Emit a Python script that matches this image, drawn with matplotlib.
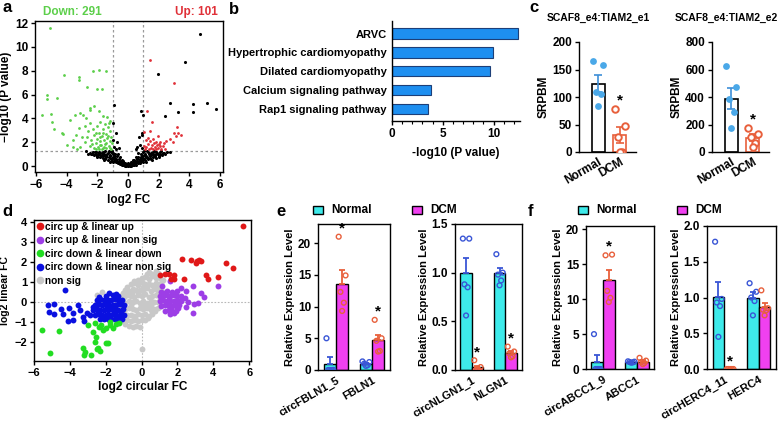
import numpy as np
import matplotlib.pyplot as plt
from matplotlib.patches import Rectangle
from matplotlib.lines import Line2D
from matplotlib.ticker import MultipleLocator

plt.rcParams['font.family'] = ['Liberation Sans', 'DejaVu Sans']
plt.rcParams['font.weight'] = 'bold'
plt.rcParams['axes.labelweight'] = 'bold'
plt.rcParams['axes.linewidth'] = 1.0
plt.rcParams['xtick.major.width'] = 1.0
plt.rcParams['ytick.major.width'] = 1.0
plt.rcParams['xtick.major.size'] = 3
plt.rcParams['ytick.major.size'] = 3
plt.rcParams['xtick.major.pad'] = 2
plt.rcParams['ytick.major.pad'] = 2
plt.rcParams['xtick.labelsize'] = 8.5
plt.rcParams['ytick.labelsize'] = 8.5

# ---------------- data ----------------
# a: volcano plot (log2 FC, -log10 P)
vol_black = np.array([
    (-0.30, 0.05), (-0.20, 0.03), (-0.10, 0.02), (0.00, 0.01), (0.10, 0.02), (0.20, 0.04), (0.30, 0.06),
    (-0.15, 0.10), (0.15, 0.09), (0.05, 0.12), (-0.05, 0.14), (-0.25, 0.15), (0.25, 0.14), (0.40, 0.08),
    (-0.40, 0.09), (-0.80, 0.30), (-0.65, 0.22), (-0.55, 0.35), (-0.45, 0.25), (-0.35, 0.32), (0.35, 0.30),
    (0.45, 0.22), (0.55, 0.34), (0.65, 0.26), (0.80, 0.28), (-0.70, 0.38), (0.70, 0.40), (-0.50, 0.15),
    (0.50, 0.12), (-0.20, 0.28), (0.20, 0.30), (0.00, 0.25), (-1.30, 0.50), (-1.10, 0.45), (-0.90, 0.55),
    (-0.75, 0.48), (-0.60, 0.58), (0.60, 0.55), (0.75, 0.46), (0.90, 0.52), (1.10, 0.47), (1.30, 0.55),
    (-1.50, 0.60), (1.50, 0.58), (-1.00, 0.32), (1.00, 0.30), (-0.40, 0.50), (0.40, 0.52), (-1.80, 0.75),
    (-1.60, 0.68), (-1.40, 0.72), (-1.20, 0.65), (-1.00, 0.78), (-0.85, 0.70), (0.85, 0.72), (1.00, 0.66),
    (1.20, 0.76), (1.40, 0.70), (1.60, 0.74), (1.80, 0.68), (-2.00, 0.78), (2.00, 0.80), (-0.70, 0.85),
    (0.65, 0.80), (-2.20, 0.92), (-2.00, 0.88), (-1.80, 0.95), (-1.60, 0.86), (-1.40, 0.93), (-1.20, 0.90),
    (-1.00, 0.97), (-0.90, 0.85), (0.90, 0.88), (1.05, 0.95), (1.20, 0.86), (1.40, 0.96), (1.60, 0.90),
    (1.80, 0.97), (2.00, 0.87), (2.20, 0.93), (-2.40, 0.98), (2.40, 1.00), (-2.50, 1.10), (-2.30, 1.18),
    (-2.10, 1.05), (-1.90, 1.22), (-1.70, 1.12), (-1.50, 1.25), (-1.30, 1.08), (-1.10, 1.20), (-0.95, 1.12),
    (0.95, 1.15), (1.10, 1.05), (1.30, 1.22), (1.50, 1.10), (1.70, 1.24), (1.90, 1.08), (2.10, 1.18),
    (2.30, 1.12), (2.55, 1.20), (-2.70, 1.25), (-2.60, 1.00), (2.70, 1.15), (-1.25, 1.28), (1.25, 1.28),
    (-0.85, 1.00), (0.85, 1.05), (-0.25, 0.20), (0.25, 0.22), (-0.60, 0.42), (0.60, 0.44), (-0.95, 0.65),
    (0.95, 0.62), (-1.15, 0.82), (1.15, 0.80), (-1.35, 0.98), (1.35, 0.99), (-1.55, 1.05), (1.55, 1.02),
    (-1.75, 0.82), (1.75, 0.83), (-1.95, 1.00), (1.95, 1.02), (-2.15, 1.22), (2.15, 1.24), (-2.35, 1.05),
    (2.35, 1.06), (-0.45, 0.40), (0.45, 0.42), (-0.75, 0.62), (0.75, 0.60), (-1.05, 0.58), (1.05, 0.56),
    (-1.25, 0.78), (1.25, 0.80), (-1.45, 0.82), (1.45, 0.84), (-1.65, 0.95), (1.65, 0.97), (-1.85, 1.12),
    (1.85, 1.14), (-2.05, 1.20), (2.05, 1.02), (-0.15, 0.18), (0.15, 0.20), (-0.85, 0.40), (0.85, 0.42),
    (-1.15, 0.38), (1.15, 0.36), (-1.55, 0.50), (1.55, 0.48), (-1.65, 1.20), (1.65, 1.18), (-1.05, 1.28),
    (1.05, 1.26), (-0.65, 1.05), (0.65, 1.10), (-0.50, 0.80), (0.50, 0.78), (-0.30, 0.45), (0.30, 0.48),
    (-0.90, 5.10), (-0.95, 3.60), (-0.80, 2.80), (-0.70, 2.00), (-0.90, 1.60), (-0.60, 1.50), (-0.95, 2.20),
    (0.50, 1.40), (0.80, 1.80), (0.70, 2.40), (0.90, 2.60), (0.83, 4.60), (0.97, 4.30), (0.88, 2.80),
    (0.60, 1.60), (0.90, 1.50), (-0.80, 1.40), (4.70, 11.10), (3.70, 8.70), (1.96, 7.70), (2.75, 5.28),
    (4.26, 5.20), (5.14, 5.25), (5.70, 4.78), (3.28, 4.56), (4.26, 4.56), (2.38, 4.17),
])
vol_green = np.array([
    (-5.10, 11.6), (-4.18, 7.66), (-3.20, 7.46), (-3.20, 7.24), (-2.26, 7.94), (-1.89, 8.07), (-1.40, 7.94),
    (-2.64, 6.60), (-2.04, 6.47), (-1.70, 6.47), (-5.30, 5.95), (-5.30, 5.65), (-4.60, 5.67), (-5.57, 4.29),
    (-4.99, 4.34), (-4.93, 3.70), (-4.80, 3.10), (-4.27, 2.77), (-4.20, 2.72), (-3.75, 3.87), (-3.43, 4.31),
    (-3.11, 4.48), (-2.90, 4.30), (-2.70, 4.05), (-2.50, 4.70), (-2.45, 4.90), (-2.20, 5.00), (-1.90, 4.60),
    (-1.60, 4.20), (-1.35, 4.10), (-1.20, 3.80), (-3.97, 1.77), (-3.60, 2.20), (-3.40, 2.60), (-3.20, 3.20),
    (-3.00, 2.40), (-2.80, 3.40), (-2.60, 2.90), (-2.50, 3.60), (-2.40, 2.20), (-2.30, 3.10), (-2.20, 2.60),
    (-2.10, 1.90), (-2.00, 3.40), (-2.00, 2.30), (-1.95, 1.60), (-1.90, 2.80), (-1.85, 2.10), (-1.80, 3.70),
    (-1.75, 1.75), (-1.70, 2.50), (-1.65, 1.50), (-1.60, 3.10), (-1.55, 2.20), (-1.50, 1.85), (-1.45, 2.70),
    (-1.40, 1.55), (-1.35, 2.35), (-1.30, 3.30), (-1.25, 1.70), (-1.20, 2.10), (-1.15, 2.90), (-1.10, 1.45),
    (-1.05, 1.95), (-1.70, 1.40), (-1.90, 1.45), (-2.20, 1.50), (-2.50, 1.70), (-2.80, 2.00), (-3.10, 1.60),
    (-1.50, 3.50), (-1.30, 2.55), (-1.60, 2.75), (-1.80, 2.45), (-2.10, 2.75), (-2.35, 1.85), (-1.40, 1.95),
    (-1.20, 1.50), (-1.55, 1.60), (-1.85, 1.75), (-2.05, 1.40), (-1.10, 2.40), (-1.25, 3.60), (-2.65, 2.40),
    (-3.30, 1.40), (-3.60, 1.60),
])
vol_red = np.array([
    (1.44, 8.93), (3.00, 7.00), (1.25, 4.64), (1.57, 3.73), (3.17, 3.26), (3.28, 2.79), (3.00, 2.80),
    (3.46, 2.60), (1.04, 2.85), (1.40, 2.90), (1.10, 1.40), (1.20, 1.60), (1.30, 1.85), (1.35, 1.45),
    (1.45, 2.10), (1.50, 1.55), (1.55, 1.75), (1.60, 2.30), (1.65, 1.40), (1.70, 1.90), (1.75, 1.60),
    (1.80, 2.05), (1.85, 1.45), (1.90, 1.75), (1.95, 1.55), (2.00, 1.85), (2.05, 1.65), (2.10, 2.00),
    (2.15, 1.45), (2.25, 1.70), (2.35, 1.90), (2.50, 2.10), (2.70, 2.30), (2.90, 2.05), (3.10, 2.50),
    (1.15, 2.20), (1.05, 1.70), (1.30, 2.35), (1.95, 2.50), (2.40, 1.40),
])
n_down, n_up = 291, 101

# b: KEGG enrichment
kegg_terms = ['ARVC', 'Hypertrophic cardiomyopathy', 'Dilated cardiomyopathy',
              'Calcium signaling pathway', 'Rap1 signaling pathway']
kegg_vals = [12.45, 9.9, 9.65, 3.87, 3.57]

# c: SRPBM of fusion circRNAs
c_titles = ['SCAF8_e4:TIAM2_e1', 'SCAF8_e4:TIAM2_e2']
c_normal = [[166, 158, 110, 105, 83], [622, 470, 388, 288, 173]]
c_dcm = [[78, 47, 27, 0, 0], [175, 130, 110, 65, 40]]
c_ymax = [200, 800]

# d: circular vs linear FC
d_red = np.array([
    (5.67, 3.82), (5.11, 1.68), (2.25, 2.18), (2.77, 2.13), (3.10, 2.05), (3.20, 2.12), (3.05, 1.95),
    (3.30, 2.08), (4.68, 1.96), (1.03, 1.34), (1.30, 1.38), (1.55, 1.42), (1.78, 1.36), (1.63, 1.14),
    (1.82, 1.17), (2.38, 1.14), (3.60, 1.37), (3.69, 1.14), (4.25, 1.26),
])
d_purple = np.array([
    (1.12, 0.79), (1.60, 1.04), (2.47, 0.54), (2.87, 0.79), (3.31, 0.42), (3.46, 0.25), (4.27, 0.79),
    (2.90, -0.13), (2.87, -0.54), (2.50, -0.25), (2.60, 0.00), (3.13, -0.08), (2.40, 0.20), (2.20, 0.70),
    (1.10, 0.50), (1.40, 0.55), (1.70, 0.48), (2.00, 0.52), (1.00, 0.30), (1.20, 0.28), (1.40, 0.32),
    (1.60, 0.27), (1.80, 0.33), (2.00, 0.29), (2.20, 0.31), (1.00, 0.05), (1.20, 0.08), (1.40, 0.03),
    (1.60, 0.06), (1.80, 0.02), (2.00, 0.07), (2.20, 0.04), (1.10, -0.20), (1.30, -0.18), (1.50, -0.22),
    (1.70, -0.19), (1.90, -0.21), (2.10, -0.17), (1.30, -0.45), (1.50, -0.42), (1.70, -0.47),
    (1.90, -0.44), (1.60, -0.62), (1.80, -0.58), (1.25, 0.42), (1.55, 0.15), (1.85, -0.08), (2.05, -0.32),
])
d_green = np.array([
    (-5.56, -1.42), (-4.59, -1.47), (-5.11, -2.60), (-3.18, -2.51), (-3.24, -2.35), (-2.62, -2.00),
    (-2.43, -2.35), (-2.34, -2.48), (-1.87, -2.09), (-2.53, -1.76), (-2.71, -1.51), (-3.00, -1.17),
    (-2.62, -1.09), (-2.25, -1.17), (-2.15, -1.42), (-1.78, -1.17), (-1.44, -1.14), (-1.78, -1.00),
    (-3.19, -2.68), (-2.81, -2.68), (-2.50, -2.40), (-1.97, -2.09), (-2.00, -1.30), (-1.60, -1.30),
    (-1.25, -1.05), (-2.40, -1.25),
])
d_blue = np.array([
    (-4.25, 0.59), (-5.24, -0.17), (-4.87, -0.13), (-5.15, -0.50), (-4.87, -0.59), (-4.49, -0.34),
    (-4.40, -0.59), (-4.03, -0.30), (-3.84, -0.54), (-4.12, -0.97), (-3.80, -0.92), (-3.56, -0.17),
    (-3.46, -0.42), (-3.28, -0.75), (-3.05, -0.54), (-2.90, -0.67), (-2.72, -0.25), (-3.19, -0.97),
    (-2.00, 0.30), (-1.60, 0.32), (-1.30, 0.28), (-1.80, 0.42), (-2.50, 0.10), (-2.30, 0.12),
    (-2.10, 0.08), (-1.90, 0.11), (-1.70, 0.09), (-1.50, 0.12), (-1.30, 0.10), (-1.10, 0.08),
    (-2.60, -0.15), (-2.40, -0.12), (-2.20, -0.16), (-2.00, -0.13), (-1.80, -0.17), (-1.60, -0.14),
    (-1.40, -0.15), (-1.20, -0.12), (-1.00, -0.16), (-2.70, -0.40), (-2.50, -0.38), (-2.30, -0.42),
    (-2.10, -0.39), (-1.90, -0.41), (-1.70, -0.37), (-1.50, -0.40), (-1.30, -0.43), (-1.05, -0.38),
    (-2.60, -0.65), (-2.40, -0.63), (-2.20, -0.67), (-2.00, -0.64), (-1.80, -0.66), (-1.60, -0.62),
    (-1.40, -0.68), (-1.20, -0.64), (-1.00, -0.66), (-2.30, -0.85), (-2.10, -0.88), (-1.90, -0.84),
    (-1.70, -0.87), (-1.50, -0.85), (-1.30, -0.89), (-1.10, -0.86), (-2.40, 0.25), (-1.45, 0.38),
    (-2.45, -0.52), (-1.15, -0.52), (-1.95, -0.27), (-1.35, 0.22),
])
d_grey = np.array([
    (0.40, 1.50), (0.60, 1.42), (0.80, 1.55), (0.90, 1.45), (0.00, 1.20), (0.20, 1.25), (0.40, 1.15),
    (0.60, 1.28), (0.80, 1.18), (1.00, 1.22), (-0.20, 1.12), (-0.60, 0.90), (-0.40, 0.95), (-0.20, 0.85),
    (0.00, 0.98), (0.20, 0.88), (0.40, 0.92), (0.60, 0.84), (0.80, 0.96), (1.00, 0.86), (1.10, 0.94),
    (-0.90, 0.60), (-0.70, 0.55), (-0.50, 0.66), (-0.30, 0.58), (-0.10, 0.62), (0.10, 0.54), (0.30, 0.68),
    (0.50, 0.57), (0.70, 0.63), (0.90, 0.52), (1.10, 0.65), (-1.20, 0.30), (-1.00, 0.25), (-0.80, 0.35),
    (-0.60, 0.28), (-0.40, 0.22), (-0.20, 0.33), (0.00, 0.27), (0.20, 0.38), (0.40, 0.24), (0.60, 0.31),
    (0.80, 0.36), (1.00, 0.21), (-1.10, 0.02), (-0.90, -0.05), (-0.70, 0.06), (-0.50, -0.02),
    (-0.30, 0.04), (-0.10, -0.06), (0.10, 0.03), (0.30, -0.04), (0.50, 0.05), (0.70, -0.03), (0.90, 0.01),
    (1.05, -0.05), (-1.10, -0.32), (-0.90, -0.38), (-0.70, -0.30), (-0.50, -0.36), (-0.30, -0.40),
    (-0.10, -0.33), (0.10, -0.37), (0.30, -0.31), (0.50, -0.39), (0.70, -0.34), (0.90, -0.30),
    (-1.00, -0.62), (-0.80, -0.68), (-0.60, -0.64), (-0.40, -0.70), (-0.20, -0.61), (0.00, -0.66),
    (0.20, -0.63), (0.40, -0.69), (0.60, -0.60), (-1.00, -0.95), (-0.80, -0.90), (-0.60, -0.98),
    (-0.40, -0.92), (-0.20, -0.97), (0.00, -0.91), (0.20, -0.94), (-0.70, -1.22), (-0.50, -1.28),
    (-0.30, -1.20), (-0.10, -1.25), (0.00, -2.38), (-2.20, 0.50), (-2.50, 0.35), (0.30, 1.38),
    (0.70, 1.35), (1.20, 1.10), (1.20, 0.45), (-0.45, 1.05), (-0.80, 0.75), (-1.05, 0.45), (-1.15, -0.15),
    (-0.90, -1.10), (0.35, -0.82), (0.75, -0.48), (0.85, 0.75), (0.50, -0.18), (-0.20, 0.45),
    (0.15, -0.18), (-0.60, -0.18), (-0.35, -0.82), (0.10, 0.75), (-0.55, 0.45),
])
d_labels = ['circ up & linear up', 'circ up & linear non sig', 'circ down & linear down',
            'circ down & linear non sig', 'non sig']

# e/f: qPCR relative expression
e_genes = [['circFBLN1_5', 'FBLN1'], ['circNLGN1_1', 'NLGN1']]
e_normal = [[[5.0, 0.02, 0.0, 0.0, 0.0], [1.35, 1.25, 1.0, 0.75, 0.65]],
            [[1.35, 1.35, 0.88, 0.85, 0.56], [1.19, 1.0, 0.98, 0.92, 0.87]]]
e_dcm = [[[21.0, 14.9, 12.3, 10.6, 9.3], [7.9, 5.0, 4.6, 3.0, 2.9]],
         [[0.10, 0.03, 0.0, 0.0, 0.0], [0.24, 0.19, 0.17, 0.14, 0.13]]]
f_genes = [['circABCC1_9', 'ABCC1'], ['circHERC4_11', 'HERC4']]
f_normal = [[[5.0, 0.0, 0.0, 0.0, 0.0], [1.1, 1.05, 1.0, 0.95, 0.9]],
            [[1.78, 0.98, 0.93, 0.88, 0.45], [1.2, 1.08, 1.0, 0.95, 0.75]]]
f_dcm = [[[16.3, 16.4, 11.2, 10.2, 9.6], [1.6, 1.2, 1.0, 0.85, 0.7]],
         [[0.0, 0.0, 0.0, 0.0, 0.0], [1.1, 0.85, 0.83, 0.82, 0.75]]]
ef_sig = [[[True, True], [True, True]], [[True, False], [True, False]]]

# ---------------- styling ----------------
W, H = 784, 421
C_NORM = '#3eeaea'
C_DCM = '#f040f0'
E_NORM = '#3a56d6'
E_DCM = '#e8603c'
JIT = np.array([-0.28, 0.28, -0.14, 0.14, 0.0])

fig = plt.figure(figsize=(W / 100, H / 100), dpi=100)


def add_ax(l, t, r, b):
    return fig.add_axes([l / W, 1 - b / H, (r - l) / W, (b - t) / H])


def ftext(x, y, s, **kw):
    fig.text(x / W, 1 - y / H, s, **kw)


def sem(p):
    return np.std(p, ddof=1) / np.sqrt(len(p))


# panel letters
for x, y, s in [(7, 8, 'a'), (234, 9, 'b'), (534, 8, 'c'), (7, 212, 'd'), (281, 211, 'e'), (530, 211, 'f')]:
    ftext(x, y, s, fontsize=12, fontweight='bold', ha='center', va='center')

# ---- a ----
ax = add_ax(35, 21, 223, 172)
ax.scatter(vol_black[:, 0], vol_black[:, 1], s=5, c='black', lw=0)
ax.scatter(vol_green[:, 0], vol_green[:, 1], s=4, c='#5ccf4a', lw=0)
ax.scatter(vol_red[:, 0], vol_red[:, 1], s=4, c='#e03038', lw=0)
for v in (-1, 1):
    ax.axvline(v, ls=(0, (2, 2)), color='#9a9a9a', lw=0.9, zorder=0)
ax.axhline(1.3, ls=(0, (2, 2)), color='#9a9a9a', lw=0.9, zorder=0)
ax.set_xlim(-6.05, 6.18)
ax.set_ylim(-0.5, 12.17)
ax.set_xticks(range(-6, 7, 2))
ax.set_yticks(range(0, 13, 2))
ax.set_xlabel('log2 FC', fontsize=8.5, labelpad=2)
ax.set_ylabel('\u2212log10 (P value)', fontsize=8.5, labelpad=2)
ftext(72, 12, f'Down: {n_down}', color='#5ccf4a', fontsize=8.5, ha='center', va='center')
ftext(196, 12, f'Up: {n_up}', color='#e03038', fontsize=8.5, ha='center', va='center')

# ---- b ----
ax = add_ax(392, 21, 520, 121)
pos = np.arange(len(kegg_terms))[::-1]
ax.barh(pos, kegg_vals, height=0.55, color='#1e8ff0', edgecolor='#1d3f78', lw=0.8)
ax.set_yticks(pos)
ax.set_yticklabels(kegg_terms, fontsize=8)
ax.tick_params(axis='y', length=0, pad=4)
ax.set_ylim(-0.64, 4.67)
ax.set_xlim(0, 12.6)
ax.set_xticks([0, 5, 10])
ax.xaxis.set_minor_locator(MultipleLocator(1))
ax.tick_params(axis='x', which='minor', length=2, width=0.8)
ax.spines[['top', 'right']].set_visible(False)
ax.set_xlabel('-log10 (P value)', fontsize=8.5, labelpad=5)

# ---- c ----
c_boxes = [(579, 42, 636, 152), (712, 42, 769, 152)]
c_title_x = [598, 726]
for k in range(2):
    ax = add_ax(*c_boxes[k])
    ymax = c_ymax[k]
    for i, (pts, ec) in enumerate([(c_normal[k], 'black'), (c_dcm[k], E_DCM)]):
        m = np.mean(pts)
        ax.bar(i, m, width=0.6, color='white', edgecolor=ec, lw=1.2, zorder=1)
        ax.errorbar(i, m, yerr=sem(pts), color=('#3d8fd8' if i == 0 else E_DCM),
                    capsize=3, lw=1.2, capthick=1.2, zorder=2)
        if i == 0:
            ax.scatter(i + JIT * 0.8, pts, s=24, color='#4aa8e8', lw=0, zorder=3)
        else:
            ax.scatter(i + JIT * 0.8, pts, s=22, facecolors='white', edgecolors=E_DCM, lw=1.4, zorder=3)
    ax.text(1, max(c_dcm[k]) + 0.08 * ymax, '*', ha='center', va='center', fontsize=11)
    ax.set_xlim(-0.89, 1.74)
    ax.set_ylim(0, ymax)
    ax.set_yticks(np.linspace(0, ymax, 5))
    ax.set_xticks([0, 1])
    ax.set_xticklabels(['Normal', 'DCM'], rotation=30, ha='right', rotation_mode='anchor', fontsize=8.5)
    ax.tick_params(axis='x', length=0, pad=3)
    ax.spines[['top', 'right']].set_visible(False)
    ax.set_ylabel('SRPBM', fontsize=8.5, labelpad=2)
    ftext(c_title_x[k], 18, c_titles[k], fontsize=7.5, ha='center', va='center')

# ---- d ----
ax = add_ax(34, 220, 251, 361)
ms = 18
ax.scatter(d_grey[:, 0], d_grey[:, 1], s=ms, c='#c8c8c8', lw=0)
ax.scatter(d_blue[:, 0], d_blue[:, 1], s=ms, c='#0a10e0', lw=0)
ax.scatter(d_green[:, 0], d_green[:, 1], s=ms, c='#22dd22', lw=0)
ax.scatter(d_purple[:, 0], d_purple[:, 1], s=ms, c='#9d3ee6', lw=0)
ax.scatter(d_red[:, 0], d_red[:, 1], s=ms, c='#e01818', lw=0)
ax.axvline(0, ls=(0, (1.5, 1.5)), color='#b8b8b8', lw=0.8, zorder=0)
ax.axhline(0, ls=(0, (1.5, 1.5)), color='#b8b8b8', lw=0.8, zorder=0)
ax.set_xlim(-6.0, 6.1)
ax.set_ylim(-2.98, 4.12)
ax.set_xticks(range(-6, 7, 2))
ax.set_yticks(range(-2, 5))
ax.tick_params(axis='both', labelsize=8)
ax.set_xlabel('log2 circular FC', fontsize=8.5, labelpad=2)
ax.set_ylabel('log2 linear FC', fontsize=7.5)
ax.yaxis.set_label_coords(-0.112, 0.5)
handles = [Line2D([], [], marker='o', ls='', color=c, markersize=4.5)
           for c in ['#e01818', '#9d3ee6', '#22dd22', '#0a10e0', '#c8c8c8']]
ax.legend(handles, d_labels, loc='upper left', frameon=False, fontsize=7.3, handletextpad=0.05,
          labelspacing=0.35, borderaxespad=0.1, handlelength=0.9, borderpad=0.05)


# ---- e / f ----
def expr_panel(box, genes, normal, dcm, sig, ymax, yticks, fmt):
    ax = add_ax(*box)
    w = 0.34
    for g in range(2):
        for pts, dx, fc, ec in [(normal[g], -w / 2, C_NORM, E_NORM), (dcm[g], w / 2, C_DCM, E_DCM)]:
            m = np.mean(pts)
            ax.bar(g + dx, m, w, color=fc, edgecolor='black', lw=1, zorder=1)
            ax.errorbar(g + dx, m, yerr=[[0], [sem(pts)]], color=ec, capsize=2.5, lw=1.3,
                        capthick=1.3, zorder=2)
            ax.scatter(g + dx + JIT * w, pts, s=12, facecolors='none', edgecolors=ec, lw=1, zorder=3)
        if sig[g]:
            ax.text(g + w / 2, max(dcm[g]) + 0.055 * ymax, '*', ha='center', va='center', fontsize=11)
    ax.set_xlim(-0.5, 1.5)
    ax.set_ylim(0, ymax)
    ax.set_yticks(yticks)
    ax.set_yticklabels([fmt.format(t) for t in yticks])
    ax.set_xticks([0, 1])
    ax.set_xticklabels(genes, rotation=30, ha='right', rotation_mode='anchor', fontsize=8)
    ax.tick_params(axis='x', length=0, pad=4)
    ax.set_ylabel('Relative Expression Level', fontsize=8, labelpad=2)
    return ax


expr_panel((318, 224, 390, 370), e_genes[0], e_normal[0], e_dcm[0], ef_sig[0][0], 23, [0, 5, 10, 15, 20], '{:.0f}')
expr_panel((455, 224, 522, 370), e_genes[1], e_normal[1], e_dcm[1], ef_sig[0][1], 1.5, [0, 0.5, 1.0, 1.5], '{:.1f}')
expr_panel((586, 226, 654, 369), f_genes[0], f_normal[0], f_dcm[0], ef_sig[1][0], 20.5, [0, 5, 10, 15, 20], '{:.0f}')
expr_panel((707, 226, 776, 369), f_genes[1], f_normal[1], f_dcm[1], ef_sig[1][1], 2.0, [0, 0.5, 1.0, 1.5, 2.0], '{:.1f}')

# legends for e and f
for x0 in (313, 578):
    for dx, col, lab in [(0, C_NORM, 'Normal'), (99, C_DCM, 'DCM')]:
        fig.add_artist(Rectangle(((x0 + dx) / W, 1 - 214 / H), 10 / W, 8 / H, transform=fig.transFigure,
                                 facecolor=col, edgecolor='black', lw=1))
        ftext(x0 + dx + 18, 210, lab, fontsize=8.5, ha='left', va='center')

fig.savefig('out.png', dpi=100)
